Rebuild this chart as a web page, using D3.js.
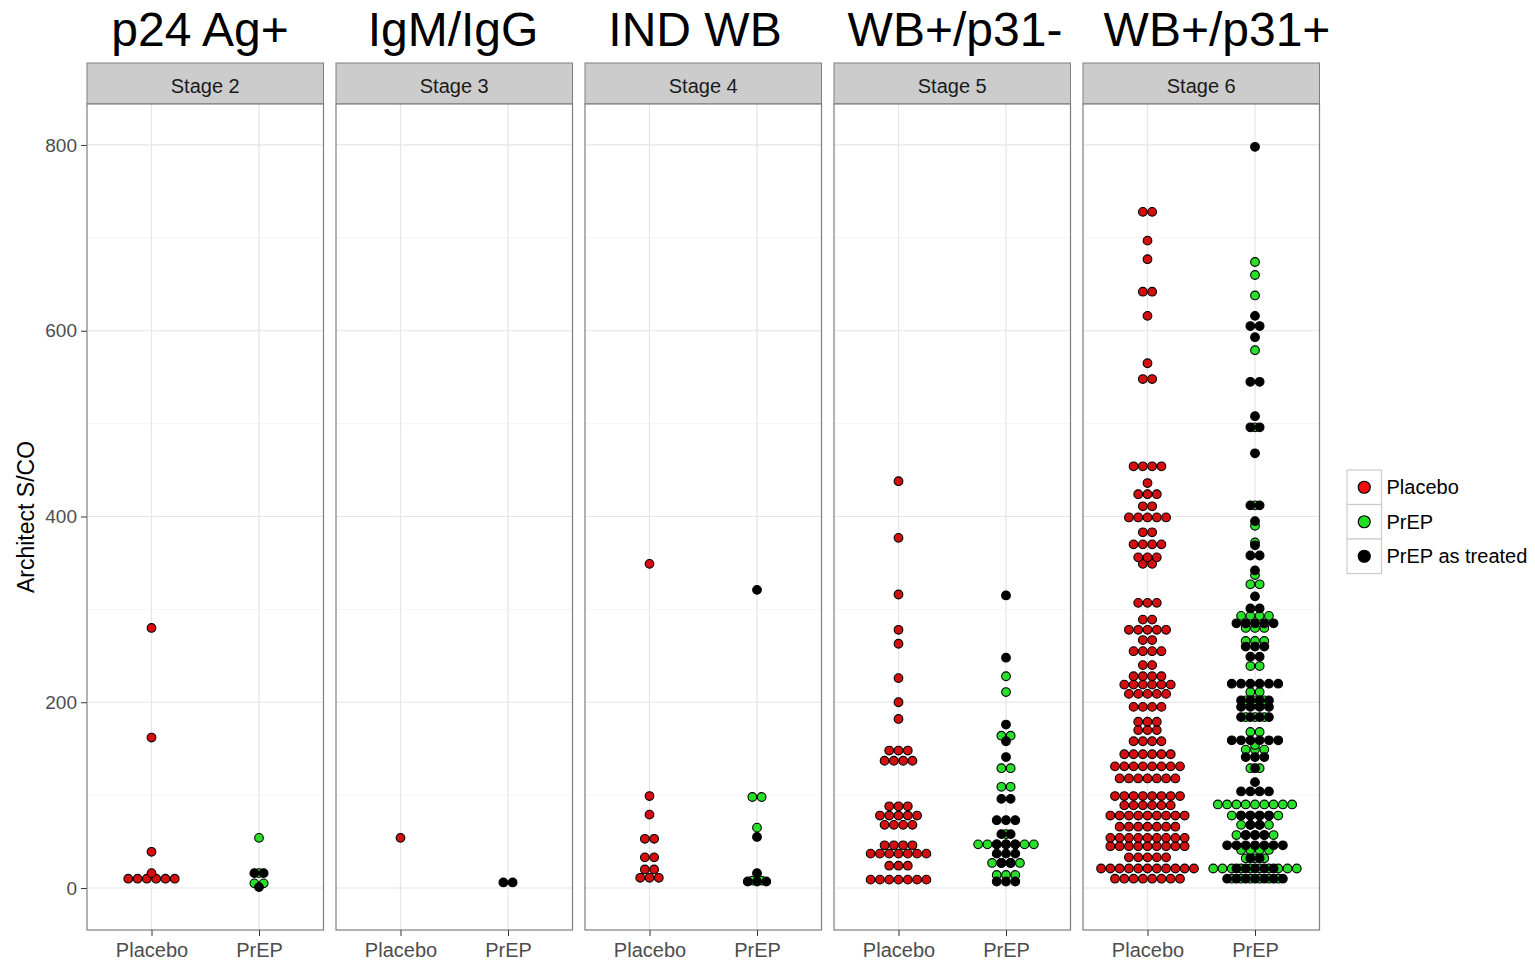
<!DOCTYPE html>
<html>
<head>
<meta charset="utf-8">
<script src="https://cdn.jsdelivr.net/npm/d3@7/dist/d3.min.js"></script>
<style>
  html, body { margin: 0; padding: 0; background: #ffffff; }
  svg { display: block; font-family: "Liberation Sans", Arial, sans-serif; }
</style>
</head>
<body>
<svg id="chart" width="1535" height="962"></svg>
<script>
// ---- data -------------------------------------------------------------
// Facets (assay stage) and the assay result that defines each stage.
const stages = ["Stage 2", "Stage 3", "Stage 4", "Stage 5", "Stage 6"];
const stageTitles = ["p24 Ag+", "IgM/IgG", "IND WB", "WB+/p31-", "WB+/p31+"];
const arms = ["Placebo", "PrEP"];
const groups = ["Placebo", "PrEP", "PrEP as treated"];
const yTicks = [0, 200, 400, 600, 800];
const yMinorTicks = [100, 300, 500, 700];

// Architect S/CO dot-plot bins: [bin centre, number of participants in bin]
const placeboStage2 = [[10, 6], [16, 1], [39, 1], [162, 1], [280, 1]];
const prepStage2 = [[5, 2], [16, 1], [54, 1]];
const treatedStage2 = [[1, 1], [16, 2]];

const placeboStage3 = [[54, 1]];
const prepStage3 = [];
const treatedStage3 = [[6, 2]];

const placeboStage4 = [[11, 3], [20, 2], [33, 2], [53, 2], [79, 1], [99, 1], [349, 1]];
const prepStage4 = [[8, 2], [65, 1], [98, 2]];
const treatedStage4 = [[7, 3], [16, 1], [55, 1], [321, 1]];

const placeboStage5 = [[9, 7], [24, 3], [37, 7], [46, 4], [68, 4], [78, 5], [88, 3],
  [137, 4], [148, 3], [182, 1], [200, 1], [226, 1], [263, 1], [278, 1], [316, 1],
  [377, 1], [438, 1]];
const prepStage5 = [[14, 3], [27, 4], [47, 7], [58, 1], [109, 2], [129, 2], [164, 2],
  [211, 1], [228, 1]];
const treatedStage5 = [[7, 3], [27, 2], [37, 3], [47, 3], [58, 2], [73, 3], [96, 2],
  [141, 1], [158, 1], [176, 1], [248, 1], [315, 1]];

const placeboStage6 = [[10, 8], [21, 11], [33, 5], [45, 9], [54, 9], [66, 7], [78, 9],
  [89, 6], [99, 8], [118, 7], [131, 8], [144, 6], [158, 4], [170, 3], [179, 3],
  [195, 4], [209, 5], [219, 6], [228, 4], [240, 2], [255, 4], [267, 2], [278, 5],
  [289, 2], [307, 3], [349, 2], [356, 3], [370, 4], [383, 2], [399, 5], [411, 2],
  [424, 3], [436, 1], [454, 4], [548, 2], [565, 1], [616, 1], [642, 2], [677, 1],
  [697, 1], [728, 2]];
const prepStage6 = [[10, 6], [21, 10], [32, 3], [41, 4], [57, 5], [68, 4], [78, 6],
  [90, 9], [129, 2], [149, 3], [154, 1], [168, 2], [184, 3], [202, 3], [211, 2],
  [239, 2], [266, 3], [280, 3], [293, 4], [327, 2], [337, 1], [372, 1], [390, 1],
  [412, 1], [496, 1], [579, 1], [638, 1], [660, 1], [674, 1]];
const treatedStage6 = [[10, 7], [21, 5], [32, 2], [46, 7], [57, 3], [68, 2], [78, 4],
  [104, 4], [114, 1], [129, 1], [141, 3], [159, 6], [184, 4], [195, 4], [202, 4],
  [220, 6], [249, 2], [260, 3], [285, 5], [301, 2], [314, 1], [342, 1], [358, 2],
  [369, 1], [395, 1], [412, 2], [468, 1], [496, 2], [508, 1], [545, 2], [593, 1],
  [605, 2], [616, 1], [798, 1]];

const placeboBins = [placeboStage2, placeboStage3, placeboStage4, placeboStage5, placeboStage6];
const prepBins = [prepStage2, prepStage3, prepStage4, prepStage5, prepStage6];
const treatedBins = [treatedStage2, treatedStage3, treatedStage4, treatedStage5, treatedStage6];

// ---- layout ------------------------------------------------------------
const binWidth = 10;
const panelLeft = 87, panelStep = 249, panelWidth = 236.5;
const stripTop = 63, panelTop = 104, panelBottom = 930;
const titleCentres = [200, 453, 695, 955, 1217];
const fills = { "Placebo": "#f01010", "PrEP": "#22dd22", "PrEP as treated": "#000000" };
const dotFills = { "Placebo": "#d40f0f", "PrEP": "#2adf2a", "PrEP as treated": "#000000" };

const svg = d3.select("#chart");

const y = d3.scaleLinear().domain([-45.2, 844.1]).range([panelBottom, panelTop]);
const dotD = y(0) - y(binWidth);
const dotR = dotD / 2 - 0.3;

// y axis labels and title
const yAxis = d3.axisLeft(y).tickValues(yTicks).tickSize(6).tickPadding(4);
const yAxisG = svg.append("g").attr("transform", `translate(${panelLeft},0)`).call(yAxis);
yAxisG.select(".domain").remove();
yAxisG.selectAll(".tick line").attr("stroke", "#333333");
yAxisG.selectAll(".tick text").attr("fill", "#4d4d4d").style("font-size", "19px")
  .style("font-family", "'Liberation Sans', Arial, sans-serif");

svg.append("text")
  .attr("transform", `translate(34,${(panelTop + panelBottom) / 2}) rotate(-90)`)
  .attr("text-anchor", "middle")
  .style("font-size", "23px")
  .attr("fill", "#000")
  .text("Architect S/CO");

const groupBins = (stageIdx) => [
  { group: "Placebo", arm: "Placebo", bins: placeboBins[stageIdx] },
  { group: "PrEP", arm: "PrEP", bins: prepBins[stageIdx] },
  { group: "PrEP as treated", arm: "PrEP", bins: treatedBins[stageIdx] }
];

stages.forEach((stage, i) => {
  const left = panelLeft + i * panelStep;
  const x = d3.scalePoint().domain(arms).range([left, left + panelWidth]).padding(0.6);

  // stage title above the facet
  svg.append("text")
    .attr("x", titleCentres[i]).attr("y", 46)
    .attr("text-anchor", "middle")
    .style("font-size", "48px")
    .attr("fill", "#000")
    .text(stageTitles[i]);

  // strip
  svg.append("rect")
    .attr("x", left).attr("y", stripTop)
    .attr("width", panelWidth).attr("height", panelTop - stripTop)
    .attr("fill", "#cccccc").attr("stroke", "#7f7f7f").attr("stroke-width", 1);
  svg.append("text")
    .attr("x", left + panelWidth / 2).attr("y", (stripTop + panelTop) / 2 + 9)
    .attr("text-anchor", "middle")
    .style("font-size", "20px")
    .attr("fill", "#1a1a1a")
    .text(stage);

  const g = svg.append("g");
  g.append("rect")
    .attr("x", left).attr("y", panelTop)
    .attr("width", panelWidth).attr("height", panelBottom - panelTop)
    .attr("fill", "#ffffff");

  // grid lines
  g.selectAll(".minor").data(yMinorTicks).join("line")
    .attr("x1", left).attr("x2", left + panelWidth)
    .attr("y1", d => y(d)).attr("y2", d => y(d))
    .attr("stroke", "#f4f4f4").attr("stroke-width", 1);
  g.selectAll(".major").data(yTicks).join("line")
    .attr("x1", left).attr("x2", left + panelWidth)
    .attr("y1", d => y(d)).attr("y2", d => y(d))
    .attr("stroke", "#e5e5e5").attr("stroke-width", 1.2);
  g.selectAll(".vgrid").data(arms).join("line")
    .attr("x1", d => x(d)).attr("x2", d => x(d))
    .attr("y1", panelTop).attr("y2", panelBottom)
    .attr("stroke", "#e5e5e5").attr("stroke-width", 1.2);

  // dots: each bin stacked horizontally, centred on the arm position
  groupBins(i).forEach(({ group, arm, bins }) => {
    const dots = [];
    bins.forEach(([value, count]) => {
      for (let k = 0; k < count; k++) {
        dots.push({ value, offset: (k - (count - 1) / 2) * dotD });
      }
    });
    g.selectAll(null).data(dots).join("circle")
      .attr("cx", d => x(arm) + d.offset)
      .attr("cy", d => y(d.value))
      .attr("r", dotR)
      .attr("fill", dotFills[group])
      .attr("stroke", "#000")
      .attr("stroke-width", 1.1);
  });

  // panel border
  svg.append("rect")
    .attr("x", left).attr("y", panelTop)
    .attr("width", panelWidth).attr("height", panelBottom - panelTop)
    .attr("fill", "none").attr("stroke", "#7f7f7f").attr("stroke-width", 1.2);

  // x axis
  const xAxis = d3.axisBottom(x).tickSize(6).tickPadding(7);
  const xg = svg.append("g").attr("transform", `translate(0,${panelBottom})`).call(xAxis);
  xg.select(".domain").remove();
  xg.selectAll(".tick line").attr("stroke", "#333333");
  xg.selectAll(".tick text").attr("fill", "#4d4d4d").style("font-size", "20px")
    .style("font-family", "'Liberation Sans', Arial, sans-serif");
});

// legend
const legendX = 1347, legendY = 470, keySize = 34.5;
const legend = svg.append("g");
groups.forEach((grp, j) => {
  const ky = legendY + j * keySize;
  legend.append("rect")
    .attr("x", legendX).attr("y", ky)
    .attr("width", keySize).attr("height", keySize)
    .attr("fill", "#ffffff").attr("stroke", "#cccccc").attr("stroke-width", 1.2);
  legend.append("circle")
    .attr("cx", legendX + keySize / 2).attr("cy", ky + keySize / 2)
    .attr("r", 6)
    .attr("fill", fills[grp]).attr("stroke", "#000").attr("stroke-width", 1.2);
  legend.append("text")
    .attr("x", legendX + keySize + 5).attr("y", ky + keySize / 2 + 7)
    .style("font-size", "20px")
    .attr("fill", "#000")
    .text(grp);
});
</script>
</body>
</html>
